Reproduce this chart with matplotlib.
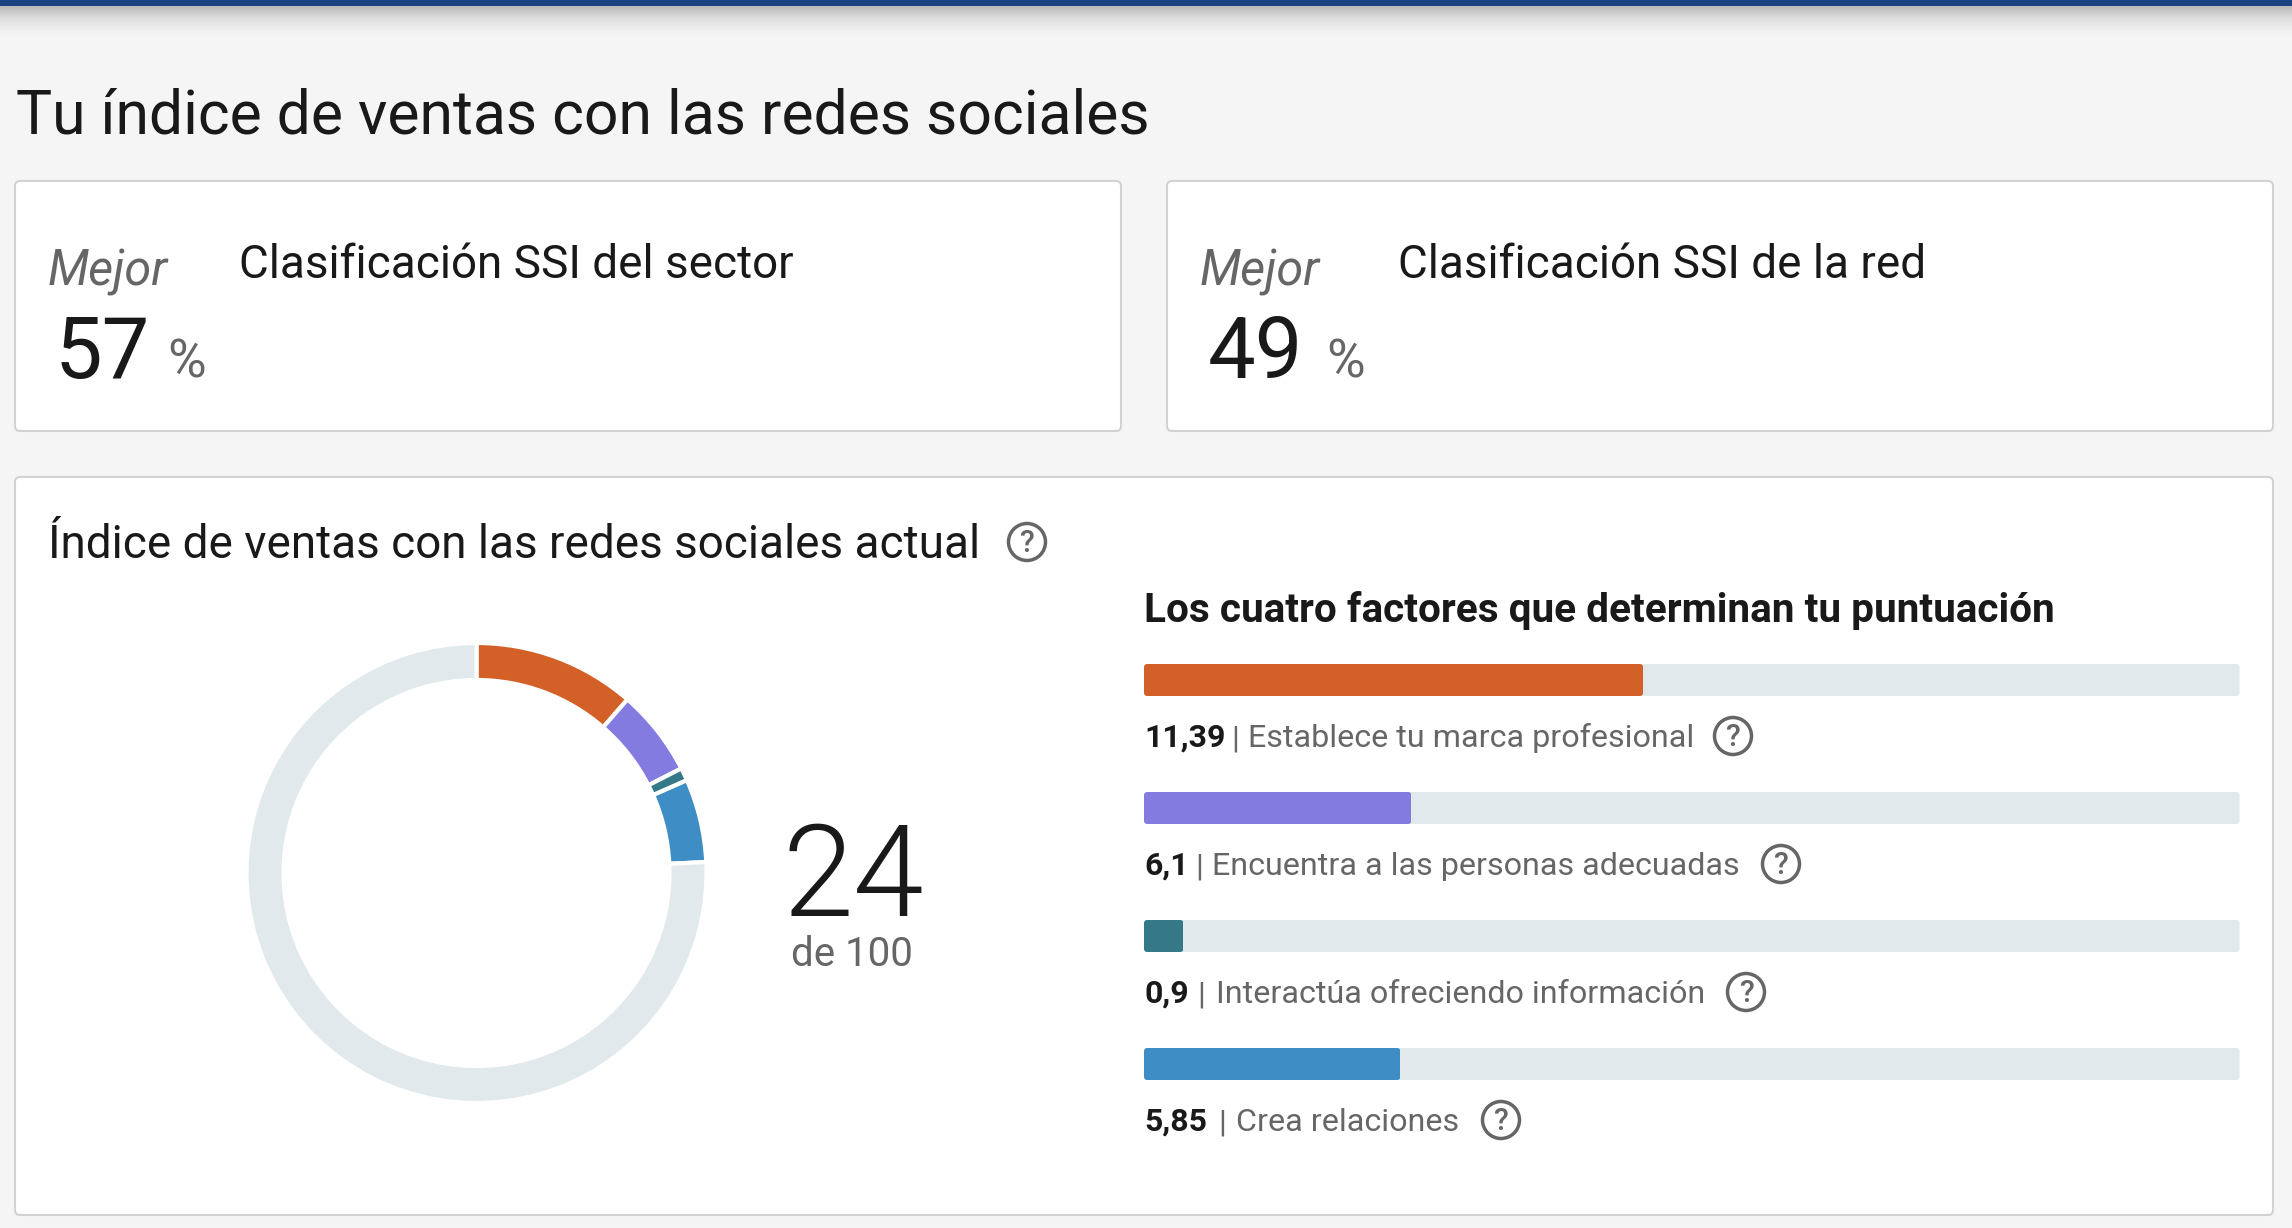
import matplotlib
matplotlib.use("Agg")
import matplotlib.pyplot as plt
from matplotlib.patches import Circle, FancyBboxPatch, Rectangle

# datos
factor_names = ["Establece tu marca profesional", "Encuentra a las personas adecuadas",
                "Interactúa ofreciendo información", "Crea relaciones"]
factor_values = [11.39, 6.1, 0.9, 5.85]
factor_max = 25
score_total = 100
score_label = "24"
rank_labels = ["Clasificación SSI del sector", "Clasificación SSI de la red"]
rank_values = [57, 49]

colors = ["#D36027", "#837BE0", "#357989", "#3F8DC5"]
track = "#E1E9ED"
dark = "#191919"
gray = "#666666"
W, H = 2292, 1228
FONT = "Roboto"

plt.rcParams["font.family"] = FONT
fig = plt.figure(figsize=(W / 100, H / 100), dpi=100, facecolor="#F5F5F5")


def px_axes(x0, y0, x1, y1):
    return fig.add_axes([x0 / W, 1 - y1 / H, (x1 - x0) / W, (y1 - y0) / H])


# fondo en pixeles
bg = px_axes(0, 0, W, H)
bg.set_xlim(0, W)
bg.set_ylim(H, 0)
bg.axis("off")

for i in range(34):
    bg.add_patch(Rectangle((0, 6 + i), W, 1, color="#000000", alpha=0.24 * (1 - i / 34) ** 2, lw=0))
bg.add_patch(Rectangle((0, 0), W, 6, color="#1B4280", lw=0))


def card(x0, y0, x1, y1):
    bg.add_patch(FancyBboxPatch((x0, y0), x1 - x0, y1 - y0, boxstyle="round,pad=0,rounding_size=5",
                                fc="white", ec="#D2D2D2", lw=1.5))


def help_icon(x, y):
    bg.add_patch(Circle((x, y), 18.5, fc="none", ec=gray, lw=2.5))
    bg.text(x, y + 1, "?", fontsize=22, color=gray, ha="center", va="center", fontweight="medium")


card(15, 181, 1121, 431)
card(1167, 181, 2273, 431)
card(15, 477, 2273, 1215)

bg.text(16, 133, "Tu índice de ventas con las redes sociales", fontsize=43.7, color=dark, va="baseline")

# tarjetas de clasificacion
card_pos = [(48, 55, 167, 239), (1200, 1208, 1326, 1398)]
for (xm, xv, xp, xt), lab, val in zip(card_pos, rank_labels, rank_values):
    bg.text(xm, 285, "Mejor", fontsize=35, style="italic", color=gray, va="baseline")
    bg.text(xv, 378, str(val), fontsize=61, color=dark, va="baseline")
    bg.text(xp, 378, "%", fontsize=38, color=gray, va="baseline")
    bg.text(xt, 278, lab, fontsize=33, color=dark, va="baseline")

bg.text(48, 558.5, "Índice de ventas con las redes sociales actual", fontsize=33, color=dark, va="baseline")
help_icon(1027, 542)
bg.text(1144, 622, "Los cuatro factores que determinan tu puntuación", fontsize=29.2, fontweight="bold",
        color=dark, va="baseline")

# dona
donut = px_axes(476.5 - 240, 873 - 240, 476.5 + 240, 873 + 240)
rest = score_total - sum(factor_values)
donut.pie(factor_values + [rest], colors=colors + [track], startangle=90, counterclock=False,
          radius=230 / 240, wedgeprops=dict(width=37 / 240, edgecolor="white", linewidth=3))
donut.set_xlim(-1, 1)
donut.set_ylim(-1, 1)

bg.text(853, 916.5, score_label, fontsize=92, fontweight=300, color=dark, ha="center", va="baseline")
bg.text(852, 965.5, "de 100", fontsize=29, color=gray, ha="center", va="baseline")

# barras
bars_ax = px_axes(1144, 664, 2239.5, 1080)
bars_ax.set_xlim(0, factor_max)
bars_ax.set_ylim(3.125, -0.125)
bars_ax.axis("off")
ypos = list(range(len(factor_values)))
h = 0.25
asp = (1 / 128) / (factor_max / 1095.5)
rad = 3.5 * factor_max / 1095.5


def rounded(container):
    for b in container:
        clip = FancyBboxPatch((b.get_x(), b.get_y()), b.get_width(), b.get_height(),
                              boxstyle=f"round,pad=0,rounding_size={rad}", mutation_aspect=asp,
                              transform=bars_ax.transData)
        b.set_clip_path(clip)


rounded(bars_ax.barh(ypos, [factor_max] * len(ypos), height=h, color=track, lw=0))
rounded(bars_ax.barh(ypos, factor_values, height=h, color=colors, lw=0))

# etiquetas de las barras
sep_x = [1235, 1199, 1201.5, 1222]
name_x = [1248.5, 1212, 1216, 1236.5]
icon_x = [1733, 1781, 1746, 1501]
for i, (n, v) in enumerate(zip(factor_names, factor_values)):
    y = 747 + 128 * i
    bg.text(1144, y, f"{v:g}".replace(".", ","), fontsize=23, fontweight="bold", color=dark, va="baseline")
    bg.text(sep_x[i], y, "|", fontsize=23, color=gray, ha="center", va="baseline")
    bg.text(name_x[i], y, n, fontsize=23.2, color=gray, va="baseline")
    help_icon(icon_x[i], y - 11)

fig.savefig("out.png", dpi=100, facecolor=fig.get_facecolor())
